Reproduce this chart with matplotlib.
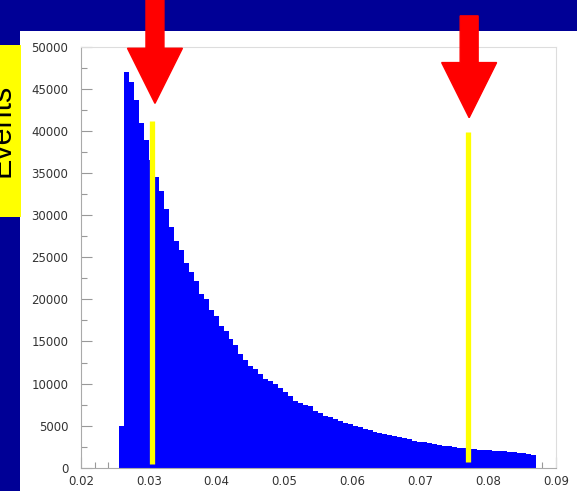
import numpy as np
import matplotlib
matplotlib.use('Agg')
import matplotlib.pyplot as plt
from matplotlib.patches import Rectangle, FancyArrow
from matplotlib.ticker import MultipleLocator

# Histogram (events per bin)
bin_lo, bin_hi = 0.02564, 0.08711
counts = [
    5000, 47000, 45800, 43700, 41000, 38900, 36600, 34500, 32900, 30700,
    28600, 27000, 25900, 24300, 23200, 22200, 20700, 20100, 18800, 18000,
    16900, 16200, 15300, 14600, 13500, 12800, 12100, 11700, 11100, 10600,
    10300, 9950, 9500, 9000, 8500, 7950, 7700, 7450, 7300, 6750,
    6450, 6200, 6000, 5750, 5550, 5350, 5150, 4950, 4780, 4620,
    4450, 4300, 4150, 4020, 3880, 3760, 3640, 3520, 3360, 3230,
    3110, 3000, 2900, 2800, 2700, 2620, 2520, 2440, 2370, 2300,
    2240, 2190, 2150, 2100, 2060, 2020, 1980, 1930, 1890, 1840,
    1770, 1700, 1620, 1520,
]

# cut positions (yellow lines): x, bottom, top
cut_x = [0.0304, 0.0771]
cut_bottom = [400, 700]
cut_top = [41200, 39900]

# red arrows: x, shaft start, tip
arrow_x = [0.0309, 0.0772]
arrow_start = [55700, 53700]
arrow_tip = [43300, 41600]

NAVY = '#000096'

fig = plt.figure(figsize=(5.77, 4.91), dpi=100)
fig.patch.set_facecolor(NAVY)

# white panel behind the plot
fig.patches.append(Rectangle((20 / 577, 0), 1 - 20 / 577, 460 / 491,
                             transform=fig.transFigure, facecolor='white',
                             edgecolor='none', zorder=-2))
# yellow "Events" tab (text runs off the left edge, as in the slide)
fig.patches.append(Rectangle((0, 1 - 217 / 491), 21 / 577, 172 / 491,
                             transform=fig.transFigure, facecolor='#ffff00',
                             edgecolor='none', zorder=-1))
fig.text(1.5 / 577, 1 - 130 / 491, 'Events', rotation=90, ha='center', va='center',
         fontsize=22, family='Liberation Sans', color='black', zorder=2)

ax = fig.add_axes([81 / 577, 1 - 467.7 / 491, 475 / 577, 420.7 / 491])
ax.set_zorder(1)
ax.set_facecolor('white')

edges = np.linspace(bin_lo, bin_hi, len(counts) + 1)
ax.stairs(counts, edges, fill=True, color='#0000ff', zorder=2)

for x, b, t in zip(cut_x, cut_bottom, cut_top):
    ax.plot([x, x], [b, t], color='#ffff00', lw=3.8, solid_capstyle='butt', zorder=3)

for x, s, t in zip(arrow_x, arrow_start, arrow_tip):
    arr = FancyArrow(x, s, 0, t - s, width=0.00265, head_width=0.0081,
                     head_length=6550, length_includes_head=True,
                     color='#ff0000', clip_on=False, zorder=5)
    ax.add_patch(arr)

ax.set_xlim(0.02, 0.09)
ax.set_ylim(0, 50000)
ax.xaxis.set_major_locator(MultipleLocator(0.01))
ax.xaxis.set_minor_locator(MultipleLocator(0.002))
ax.yaxis.set_major_locator(MultipleLocator(5000))
ax.yaxis.set_minor_locator(MultipleLocator(2500))
ax.set_xticklabels([f'{v:.2f}' for v in ax.get_xticks()])
ax.set_yticklabels([f'{int(v)}' for v in ax.get_yticks()])

ax.tick_params(which='both', direction='in', colors='#999999', labelcolor='#333333',
               labelsize=8.5)
ax.tick_params(which='major', length=8, width=0.8)
ax.tick_params(which='minor', length=4, width=0.8)
ax.tick_params(axis='y', pad=9)
ax.tick_params(axis='x', pad=5)
ax.tick_params(top=False, right=False, which='both')
for side in ['left', 'bottom']:
    ax.spines[side].set_color('#aaaaaa')
for side in ['top', 'right']:
    ax.spines[side].set_color('#dddddd')

plt.savefig('out.png', dpi=100, facecolor=NAVY)
plt.close()
